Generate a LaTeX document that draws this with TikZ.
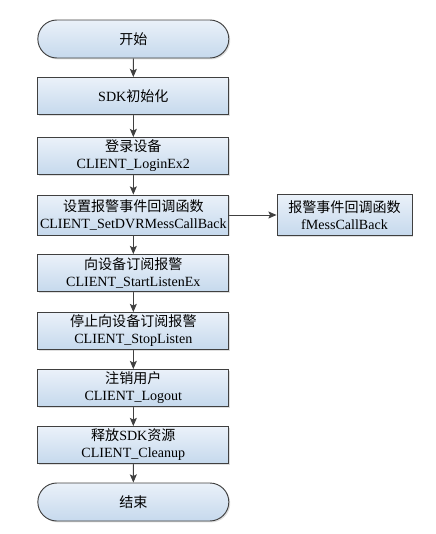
\documentclass[tikz,border=0pt]{standalone}
\usepackage{fontspec}
\setmainfont{Liberation Serif}
\newfontfamily\cjk{Noto Sans CJK SC}
\newcommand{\zh}[1]{{\cjk #1}}
\usetikzlibrary{arrows.meta,shapes.misc,shadows}
\pgfdeclarelayer{edgelayer}
\pgfdeclarelayer{nodelayer}
\pgfsetlayers{edgelayer,nodelayer,main}
\definecolor{boxtop}{RGB}{234,241,249}
\definecolor{boxbot}{RGB}{198,217,237}
\definecolor{edgegray}{RGB}{64,64,64}
\tikzset{font=\fontsize{12}{14.5}\selectfont}
\tikzstyle{stepbox}=[rectangle,draw=edgegray,line width=0.8pt,top color=boxtop,bottom color=boxbot,minimum width=5.73cm,minimum height=1.11cm,inner sep=0pt,align=center,drop shadow={shadow xshift=1.2pt,shadow yshift=-1.2pt,opacity=0.25,fill=gray}]
\tikzstyle{terminal}=[stepbox,rounded rectangle,minimum height=1.14cm]
\tikzstyle{sidebox}=[stepbox,minimum width=4.05cm,minimum height=1.23cm]
\tikzstyle{flowarrow}=[-{Stealth[length=7pt,width=6pt,inset=1.5pt]},draw=edgegray,line width=0.8pt]

\begin{document}
\begin{tikzpicture}
	\useasboundingbox (0,0) rectangle (13.08,-16.02);
	\begin{pgfonlayer}{nodelayer}
		\node [style=terminal] (Start) at (4.0,-1.17) {\zh{开始}};
		\node [style=stepbox] (Init) at (4.0,-2.88) {SDK\zh{初始化}};
		\node [style=stepbox] (Login) at (4.0,-4.68) {\zh{登录设备}\\CLIENT\_LoginEx2};
		\node [style=stepbox, minimum height=1.2cm] (SetCB) at (4.0,-6.45) {\zh{设置报警事件回调函数}\\CLIENT\_SetDVRMessCallBack};
		\node [style=sidebox] (CB) at (10.335,-6.45) {\zh{报警事件回调函数}\\fMessCallBack};
		\node [style=stepbox] (Listen) at (4.0,-8.19) {\zh{向设备订阅报警}\\CLIENT\_StartListenEx};
		\node [style=stepbox] (Stop) at (4.0,-9.93) {\zh{停止向设备订阅报警}\\CLIENT\_StopListen};
		\node [style=stepbox] (Logout) at (4.0,-11.64) {\zh{注销用户}\\CLIENT\_Logout};
		\node [style=stepbox] (Clean) at (4.0,-13.35) {\zh{释放}SDK\zh{资源}\\CLIENT\_Cleanup};
		\node [style=terminal] (End) at (4.0,-15.06) {\zh{结束}};
	\end{pgfonlayer}
	\begin{pgfonlayer}{edgelayer}
		\draw [style=flowarrow] (Start) to (Init);
		\draw [style=flowarrow] (Init) to (Login);
		\draw [style=flowarrow] (Login) to (SetCB);
		\draw [style=flowarrow] (SetCB) to (CB);
		\draw [style=flowarrow] (SetCB) to (Listen);
		\draw [style=flowarrow] (Listen) to (Stop);
		\draw [style=flowarrow] (Stop) to (Logout);
		\draw [style=flowarrow] (Logout) to (Clean);
		\draw [style=flowarrow] (Clean) to (End);
	\end{pgfonlayer}
\end{tikzpicture}
\end{document}
